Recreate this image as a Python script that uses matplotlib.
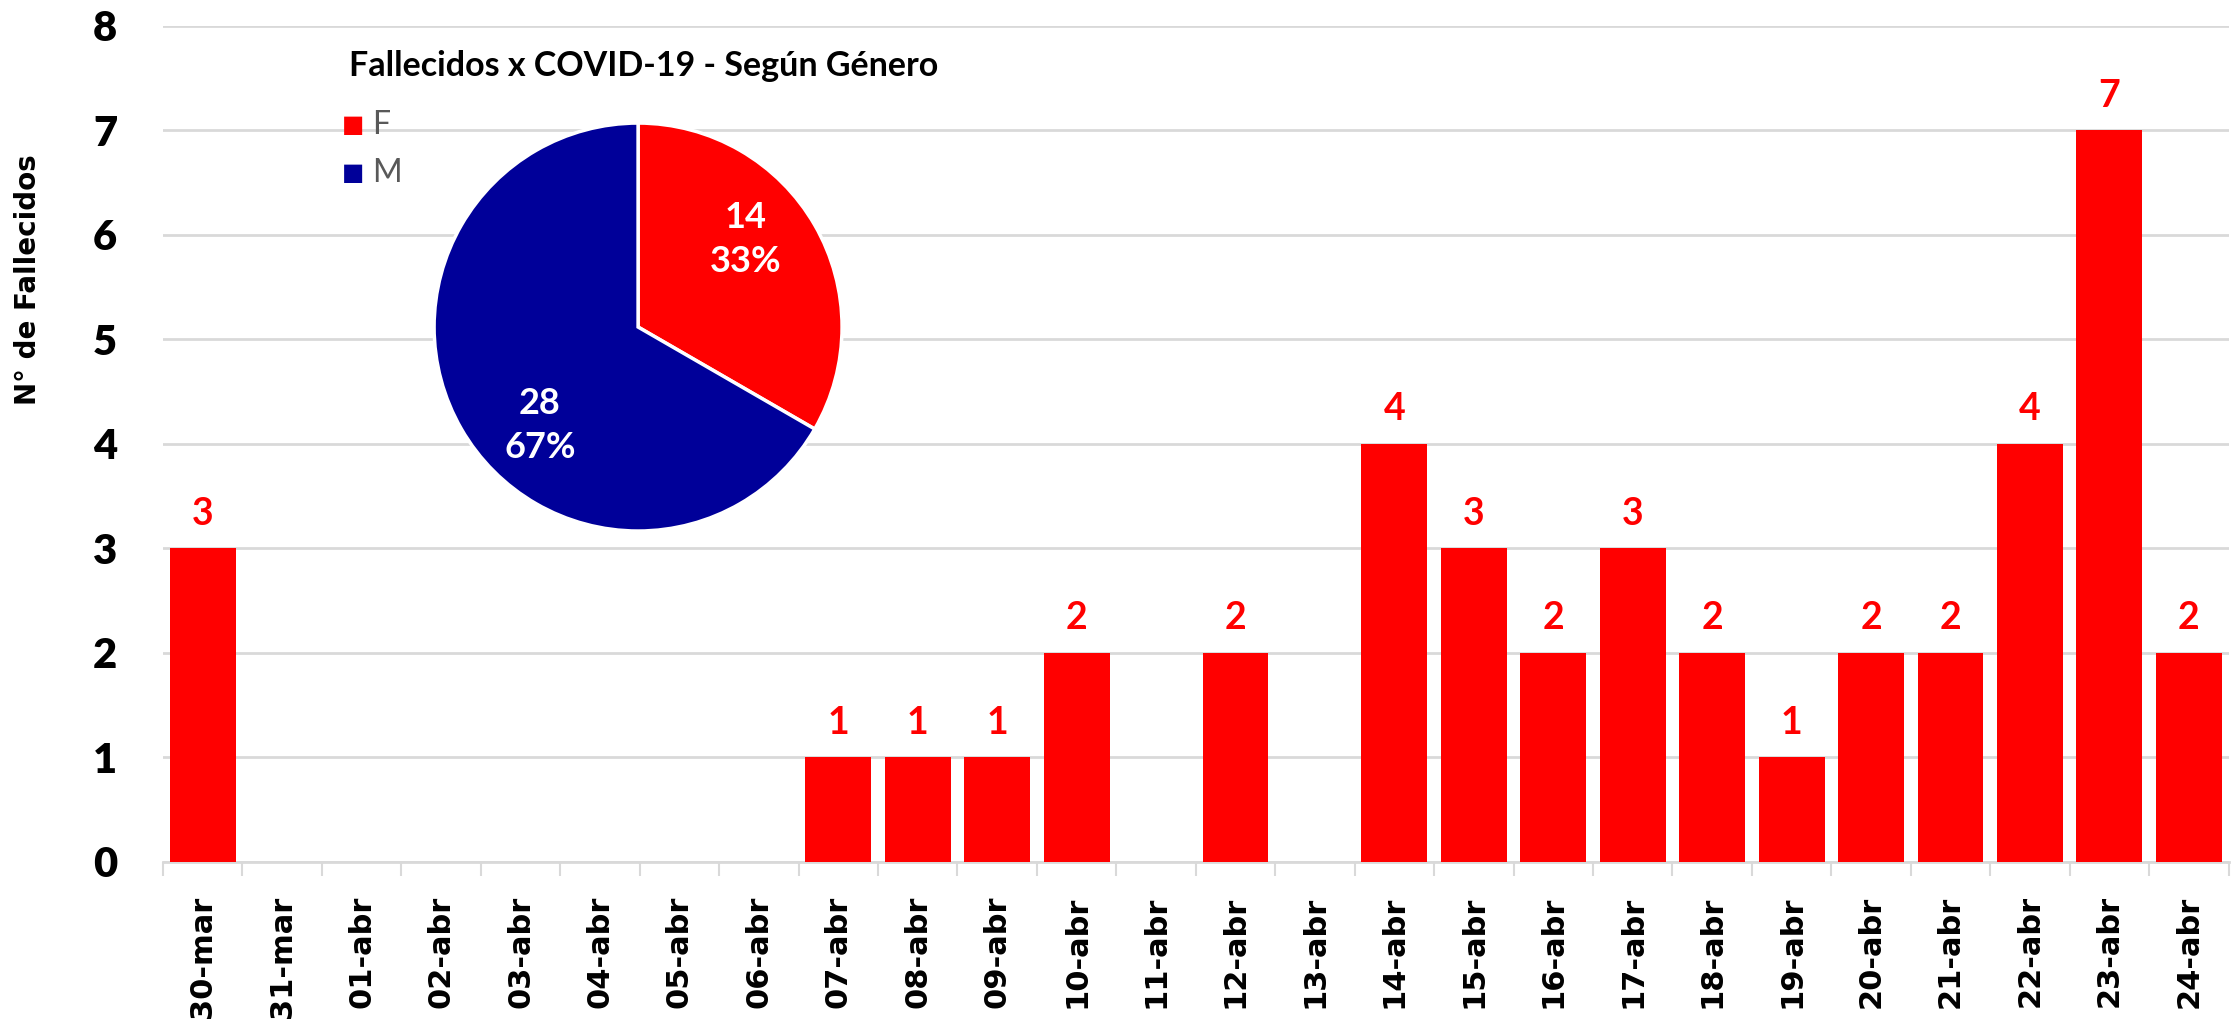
import matplotlib
matplotlib.use("Agg")
import matplotlib.pyplot as plt
import numpy as np

# daily deaths
dates = ["30-mar", "31-mar", "01-abr", "02-abr", "03-abr", "04-abr", "05-abr",
         "06-abr", "07-abr", "08-abr", "09-abr", "10-abr", "11-abr", "12-abr",
         "13-abr", "14-abr", "15-abr", "16-abr", "17-abr", "18-abr", "19-abr",
         "20-abr", "21-abr", "22-abr", "23-abr", "24-abr"]
deaths = [3, 0, 0, 0, 0, 0, 0, 0, 1, 1, 1, 2, 0, 2, 0, 4, 3, 2, 3, 2, 1, 2, 2, 4, 7, 2]

# gender split
genders = ["F", "M"]
gender_counts = [14, 28]

RED = "#ff0000"
BLUE = "#000099"
GRID = "#d9d9d9"
narrow = ["Lato", "DejaVu Sans"]
wide = ["DejaVu Sans"]

fig = plt.figure(figsize=(22.33, 10.22), dpi=100)
ax = fig.add_axes([0.073, 0.1566, 0.925, 0.818])

x = np.arange(len(dates))
ax.bar(x, deaths, width=0.83, color=RED, zorder=3)
for xi, v in zip(x, deaths):
    if v > 0:
        ax.annotate(str(v), (xi, v), xytext=(0, 25), textcoords="offset points",
                    ha="center", va="center", color=RED, fontsize=27,
                    fontweight="bold", family=narrow)

ax.set_xlim(-0.5, len(dates) - 0.5)
ax.set_ylim(0, 8)
ax.set_yticks(range(0, 9))
ax.yaxis.grid(True, color=GRID, linewidth=2, zorder=0)
ax.set_axisbelow(True)
for s in ["left", "right", "top"]:
    ax.spines[s].set_visible(False)
ax.spines["bottom"].set_color(GRID)
ax.spines["bottom"].set_linewidth(2)

ax.set_xticks(x)
ax.set_xticklabels(dates, rotation=90, fontsize=22, fontweight="bold", family=wide, va="top")
ax.tick_params(axis="x", which="major", length=0, pad=24)
ax.set_xticks(np.arange(-0.5, len(dates)), minor=True)
ax.tick_params(axis="x", which="minor", length=10, width=1.5, color=GRID)
ax.tick_params(axis="y", length=0, pad=33)
for lbl in ax.get_yticklabels():
    lbl.set_fontsize(30)
    lbl.set_fontweight("heavy")
    lbl.set_family(narrow)

ax.set_ylabel("N° de Fallecidos", fontsize=20, fontweight="bold", family=wide)
ax.yaxis.set_label_coords(-0.0586, 0.696)

# inset pie
pax = fig.add_axes([0.1944, 0.4804, 0.1827, 0.3992])
total = sum(gender_counts)
wedges, texts, autotexts = pax.pie(
    gender_counts, colors=[RED, BLUE], startangle=90, counterclock=False,
    autopct=lambda p: "{:d}\n{:.0f}%".format(int(round(p * total / 100)), p),
    pctdistance=0.67, wedgeprops=dict(edgecolor="white", linewidth=2.5))
for t, ang in zip(autotexts, [39, 225]):
    t.set_position((0.68 * np.cos(np.radians(ang)), 0.68 * np.sin(np.radians(ang))))
    t.set_color("white")
    t.set_fontsize(26)
    t.set_fontweight("bold")
    t.set_family(narrow)
    t.set_linespacing(1.4)
for w in wedges:
    w.set_clip_on(False)
pax.set_xlim(-1.0, 1.0)
pax.set_ylim(-1.0, 1.0)
pax.set_aspect("equal")

fig.text(644 / 2233, 1 - 66 / 1022, "Fallecidos x COVID-19 - Según Género",
         ha="center", va="center", fontsize=24.5, fontweight="bold", family=narrow)

for g, c, yy in zip(genders, [RED, BLUE], [125, 173]):
    fig.text(353 / 2233, 1 - yy / 1022, "\u25a0", ha="center", va="center",
             color=c, fontsize=17, family=wide)
    fig.text(372 / 2233, 1 - yy / 1022, g, ha="left", va="center",
             color="#595959", fontsize=23, family=narrow)

fig.savefig("out.png", dpi=100)
